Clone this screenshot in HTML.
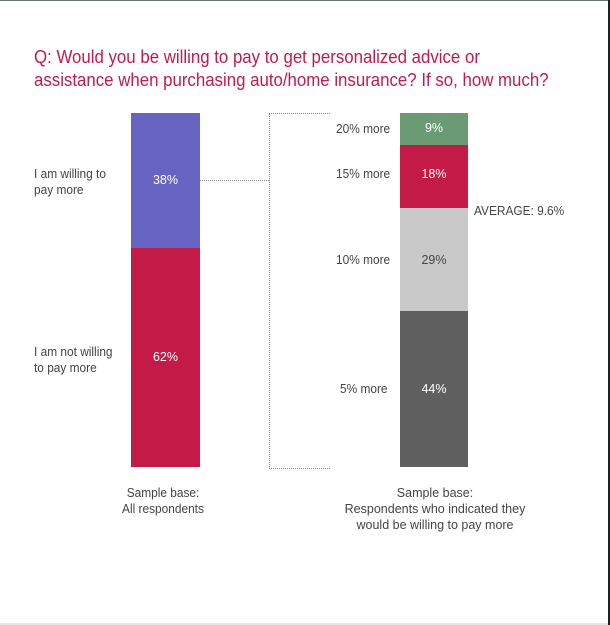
<!DOCTYPE html>
<html><head><style>
body{margin:0;width:610px;height:625px;background:#fff;position:relative;overflow:hidden;font-family:"Liberation Sans",sans-serif;}
.a{position:absolute}
.t{color:#c41a4b;font-size:18px;line-height:23px;left:34px;top:46px;white-space:nowrap;transform:scaleX(0.935);transform-origin:left}
.l{font-size:12.5px;color:#444;line-height:16px;transform:scaleX(0.95);transform-origin:left}
.w{color:#fff;font-size:12.5px;text-align:center}
</style></head><body>
<div class="a" style="left:0;top:0;width:610px;height:1px;background:#6a7478"></div>
<div class="a" style="left:608px;top:0;width:2px;height:625px;background:#1a2226"></div>
<div class="a" style="left:0;top:623px;width:608px;height:2px;background:#e4e4e4"></div>
<div class="a t">Q: Would you be willing to pay to get personalized advice or<br>assistance when purchasing auto/home insurance? If so, how much?</div>

<div class="a" style="left:131px;top:113px;width:69px;height:135px;background:#6763c0"></div>
<div class="a" style="left:131px;top:248px;width:69px;height:219px;background:#c41a47"></div>
<div class="a w" style="left:131px;top:173px;width:69px">38%</div>
<div class="a w" style="left:131px;top:350px;width:69px">62%</div>
<div class="a l" style="left:34px;top:166px">I am willing to<br>pay more</div>
<div class="a l" style="left:34px;top:344px">I am not willing<br>to pay more</div>
<div class="a l" style="left:106px;top:485px;width:120px;text-align:center">Sample base:<br>All respondents</div>

<div class="a" style="left:200px;top:180px;width:69px;border-top:1px dotted #888"></div>
<div class="a" style="left:269px;top:113px;width:60px;height:354px;border:1px dotted #888;border-right:none"></div>

<div class="a" style="left:400px;top:113px;width:68px;height:32px;background:#6a9b75"></div>
<div class="a" style="left:400px;top:145px;width:68px;height:63px;background:#c41a47"></div>
<div class="a" style="left:400px;top:208px;width:68px;height:103px;background:#c9c9c9"></div>
<div class="a" style="left:400px;top:311px;width:68px;height:156px;background:#5f5f5f"></div>
<div class="a w" style="left:400px;top:121px;width:68px">9%</div>
<div class="a w" style="left:400px;top:167px;width:68px">18%</div>
<div class="a w" style="left:400px;top:253px;width:68px;color:#444">29%</div>
<div class="a w" style="left:400px;top:382px;width:68px">44%</div>
<div class="a l" style="left:336px;top:121px">20% more</div>
<div class="a l" style="left:336px;top:166px">15% more</div>
<div class="a l" style="left:336px;top:252px">10% more</div>
<div class="a l" style="left:340px;top:381px">5% more</div>
<div class="a l" style="left:474px;top:203px">AVERAGE: 9.6%</div>
<div class="a l" style="left:320px;top:485px;width:230px;text-align:center;transform:none">Sample base:<br>Respondents who indicated they<br>would be willing to pay more</div>
</body></html>
